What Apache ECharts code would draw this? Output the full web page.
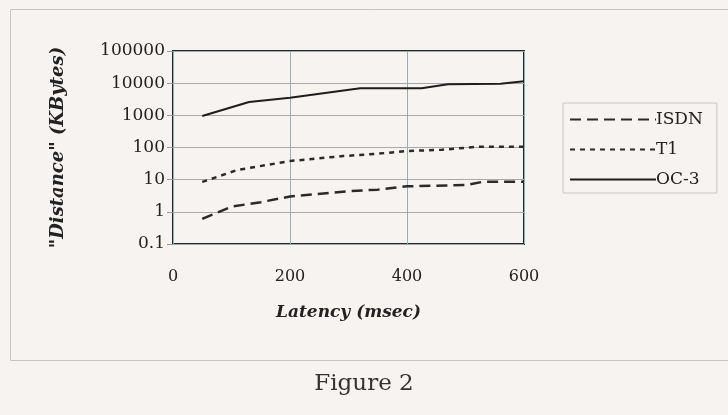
<!DOCTYPE html>
<html>
<head>
<meta charset="utf-8">
<script src="https://cdn.jsdelivr.net/npm/echarts@6/dist/echarts.min.js"></script>
<style>
html,body{margin:0;padding:0;background:#f7f3f1;}
#c{width:728px;height:415px;}
</style>
</head>
<body>
<div id="c"></div>
<script>
var seriesNames = ['ISDN', 'T1', 'OC-3'];
var isdnData = [[50,0.6],[100,1.45],[150,2.0],[200,3.0],[300,4.4],[350,4.9],[400,6.2],[500,6.8],[530,8.6],[600,8.6]];
var t1Data = [[50,8.5],[110,20],[200,38],[290,54],[350,64],[400,78],[460,85],[520,105],[600,105]];
var oc3Data = [[50,950],[130,2600],[200,3500],[320,7000],[425,7000],[470,9300],[560,9600],[600,11500]];
var xTicks = [0, 200, 400, 600];
var yTickLabels = {'0.1':'0.1','1':'1','10':'10','100':'100','1000':'1000','10000':'10000','100000':'100000'};

var serif = 'DejaVu Serif';
var chart = echarts.init(document.getElementById('c'));
chart.setOption({
  backgroundColor: '#f7f3f1',
  animation: false,
  graphic: [
    {type:'rect', shape:{x:10.5,y:9.5,width:740,height:351}, style:{fill:'none', stroke:'#c8c4c2', lineWidth:1}, silent:true},
    {type:'text', left:'center', top:373, style:{text:'Figure 2', font:'23px "DejaVu Serif"', fill:'#333'}}
  ],
  grid: {left:173, right:204, top:51, bottom:171, show:true, borderColor:'#1c2a2a', borderWidth:2, backgroundColor:'transparent'},
  legend: {
    orient:'vertical', left:563, top:103,
    data: seriesNames,
    itemWidth: 86, itemHeight: 14, itemGap: 13,
    padding:[8,14,5,6],
    borderColor:'#c9c6c4', borderWidth:1, backgroundColor:'#f7f3f1',
    itemStyle:{opacity:0},
    textStyle:{fontFamily:serif, fontSize:17, color:'#222', padding:[0,0,0,-5]}
  },
  xAxis: {
    type:'value', min:0, max:600, interval:200,
    axisLine:{show:false}, axisTick:{show:false},
    axisLabel:{fontFamily:serif, fontSize:16, color:'#222', margin:25, formatter:function(v){return xTicks.indexOf(v)>=0? String(v):'';}},
    splitLine:{show:true, lineStyle:{color:'#8fb3b3', width:1}},
    name:'Latency (msec)', nameLocation:'middle', nameGap:60,
    nameTextStyle:{fontFamily:serif, fontSize:17, fontStyle:'italic', fontWeight:'bold', color:'#222'}
  },
  yAxis: {
    type:'log', logBase:10, min:0.1, max:100000,
    axisLine:{show:false},
    axisTick:{show:true, length:6, lineStyle:{color:'#999'}},
    axisLabel:{fontFamily:serif, fontSize:17, color:'#222', margin:8, formatter:function(v){var k=String(+v.toPrecision(6)); return yTickLabels[k]!==undefined?yTickLabels[k]:k;}},
    splitLine:{show:true, lineStyle:{color:'#a9a9a9', width:1}},
    name:'"Distance" (KBytes)', nameLocation:'middle', nameGap:106,
    nameTextStyle:{fontFamily:serif, fontSize:18, fontStyle:'italic', fontWeight:'bold', color:'#222'}
  },
  series: [
    {name:'ISDN', type:'line', data:isdnData, showSymbol:false, symbol:'none', lineStyle:{color:'#2a2a2a', width:2.5, type:[11,6]}, itemStyle:{color:'#2a2a2a'}},
    {name:'T1', type:'line', data:t1Data, showSymbol:false, symbol:'none', lineStyle:{color:'#2a2a2a', width:2.5, type:[5,5]}, itemStyle:{color:'#2a2a2a'}},
    {name:'OC-3', type:'line', data:oc3Data, showSymbol:false, symbol:'none', lineStyle:{color:'#1e1e1e', width:2, type:'solid'}, itemStyle:{color:'#1e1e1e'}}
  ]
});
</script>
</body>
</html>
